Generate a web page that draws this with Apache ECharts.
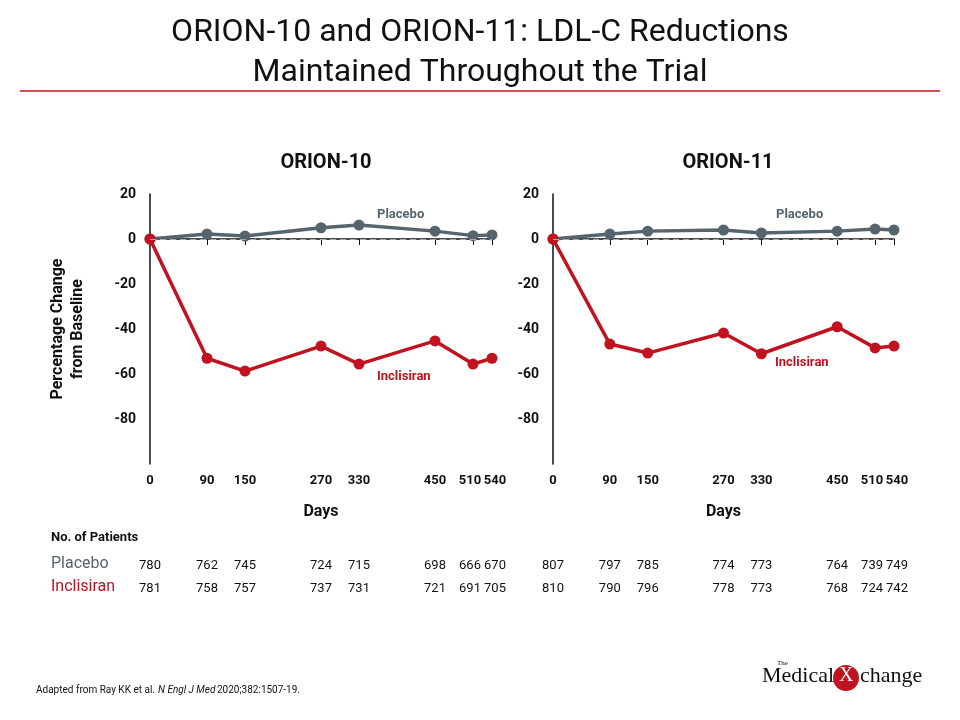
<!DOCTYPE html>
<html><head><meta charset="utf-8">
<script src="https://cdn.jsdelivr.net/npm/echarts@6/dist/echarts.min.js"></script>
<style>html,body{margin:0;background:#fff}#c{width:960px;height:720px}</style>
</head><body><div id="c"></div>
<script>
const days = [0, 90, 150, 270, 330, 450, 510, 540];
const placebo10 = [0, 2.2, 1.3, 5, 6.2, 3.5, 1.5, 1.8];
const inclisiran10 = [0, -53, -58.7, -47.6, -55.6, -45.3, -55.6, -53];
const placebo11 = [0, 2.2, 3.5, 4, 2.7, 3.5, 4.4, 4];
const inclisiran11 = [0, -46.7, -50.7, -41.8, -51, -39, -48.4, -47.6];
const nPlacebo10 = [780, 762, 745, 724, 715, 698, 666, 670];
const nInclisiran10 = [781, 758, 757, 737, 731, 721, 691, 705];
const nPlacebo11 = [807, 797, 785, 774, 773, 764, 739, 749];
const nInclisiran11 = [810, 790, 796, 778, 773, 768, 724, 742];
const yTicks = [20, 0, -20, -40, -60, -80];

const GRAY = '#56646e', RED = '#c0121f';
const FONT = 'Roboto, sans-serif';
const chart = echarts.init(document.getElementById('c'));
const grids = [{ left: 150, width: 342 }, { left: 553, width: 341 }];

function xAxis(i) {
  return {
    gridIndex: i, type: 'value', min: 0, max: 540,
    name: 'Days', nameLocation: 'middle', nameGap: 40,
    nameTextStyle: { fontSize: 16, fontWeight: 'bold', color: '#111', fontFamily: FONT },
    axisLine: { lineStyle: { color: '#111', width: 1.5 } },
    axisTick: { customValues: days, length: 6, lineStyle: { color: '#111' } },
    axisLabel: {
      customValues: days, hideOverlap: false, fontSize: 13, fontWeight: 'bold', color: '#111', fontFamily: FONT, margin: 10,
      formatter: v => v === 510 ? '{l|510}' : v === 540 ? '{r|540}' : String(v),
      rich: {
        l: { fontSize: 13, fontWeight: 'bold', fontFamily: FONT, color: '#111', padding: [0, 6, 0, 0] },
        r: { fontSize: 13, fontWeight: 'bold', fontFamily: FONT, color: '#111', padding: [0, 0, 0, 6] }
      }
    },
    splitLine: { show: false }
  };
}
function yAxis(i) {
  return {
    gridIndex: i, type: 'value', min: -100, max: 20,
    name: i === 0 ? 'Percentage Change\nfrom Baseline' : '', nameLocation: 'middle', nameGap: 62,
    nameTextStyle: { fontSize: 16, fontWeight: 'bold', color: '#111', fontFamily: FONT, lineHeight: 20 },
    axisLine: { show: true, lineStyle: { color: '#111', width: 1.5 } },
    axisTick: { show: false },
    axisLabel: { customValues: yTicks, fontSize: 14, fontWeight: 'bold', color: '#111', fontFamily: FONT, margin: 14 },
    splitLine: { show: false }
  };
}
function line(i, vals, color, zero) {
  const s = {
    type: 'line', xAxisIndex: i, yAxisIndex: i,
    data: days.map((d, k) => [d, vals[k]]),
    symbol: 'circle', symbolSize: 11,
    lineStyle: { color: color, width: 3.5 }, itemStyle: { color: color },
    z: zero ? 3 : 4
  };
  if (zero) s.markLine = { silent: true, symbol: 'none', label: { show: false },
    lineStyle: { color: '#aaa', type: [6, 4], width: 1 }, data: [{ yAxis: 0 }] };
  return s;
}

const texts = [];
function t(x, y, text, style) {
  texts.push({ type: 'text', left: x, top: y, style: Object.assign({ text: text, fontFamily: FONT, fill: '#111', fontSize: 14 }, style) });
}
const nudge = [0, 0, 0, 0, 0, 0, -3, 3];
function tableRow(gi, vals, y) {
  const g = grids[gi];
  vals.forEach((v, k) => {
    texts.push({ type: 'text', x: g.left + days[k] / 540 * g.width + nudge[k], y: y,
      style: { text: String(v), fontFamily: FONT, fill: '#111', fontSize: 13, align: 'center', verticalAlign: 'middle' } });
  });
}
tableRow(0, nPlacebo10, 566); tableRow(0, nInclisiran10, 589);
tableRow(1, nPlacebo11, 566); tableRow(1, nInclisiran11, 589);
t(51, 531, 'No. of Patients', { fontWeight: 'bold', fontSize: 13 });
t(51, 556, 'Placebo', { fill: GRAY, fontSize: 16 });
t(51, 579, 'Inclisiran', { fill: RED, fontSize: 16 });
t(377, 208, 'Placebo', { fill: GRAY, fontWeight: 'bold', fontSize: 13 });
t(377, 370, 'Inclisiran', { fill: RED, fontWeight: 'bold', fontSize: 13 });
t(776, 208, 'Placebo', { fill: GRAY, fontWeight: 'bold', fontSize: 13 });
t(775, 356, 'Inclisiran', { fill: RED, fontWeight: 'bold', fontSize: 13 });
t(36, 685, 'Adapted from Ray KK et al.', { fontSize: 10 });
t(158, 685, 'N Engl J Med', { fontSize: 10, fontStyle: 'italic' });
t(217, 685, '2020;382:1507-19.', { fontSize: 10 });
t(762, 665, 'Medical', { fontSize: 22, fontFamily: '"Liberation Serif", serif' });
texts.push({ type: 'circle', shape: { cx: 846, cy: 678, r: 13 }, style: { fill: RED } });
t(839, 666, 'X', { fontSize: 20, fill: '#fff', fontFamily: '"Liberation Serif", serif' });
t(860, 665, 'change', { fontSize: 22, fontFamily: '"Liberation Serif", serif' });
t(777, 660, 'The', { fontSize: 7, fontFamily: '"Liberation Serif", serif' });
texts.push({ type: 'line', shape: { x1: 20, y1: 91, x2: 940, y2: 91 }, style: { stroke: RED, lineWidth: 1.5 } });

chart.setOption({
  animation: false,
  title: [
    { text: 'ORION-10 and ORION-11: LDL-C Reductions\nMaintained Throughout the Trial', left: 'center', top: 8,
      textStyle: { fontSize: 32, fontWeight: 'normal', color: '#111', fontFamily: FONT, lineHeight: 40 } },
    { text: 'ORION-10', left: 321, top: 148, textAlign: 'center', textStyle: { fontSize: 20, fontWeight: 'bold', color: '#111', fontFamily: FONT } },
    { text: 'ORION-11', left: 723, top: 148, textAlign: 'center', textStyle: { fontSize: 20, fontWeight: 'bold', color: '#111', fontFamily: FONT } }
  ],
  grid: grids.map(g => ({ left: g.left, width: g.width, top: 194, height: 270 })),
  xAxis: [xAxis(0), xAxis(1)],
  yAxis: [yAxis(0), yAxis(1)],
  series: [line(0, placebo10, GRAY, true), line(0, inclisiran10, RED),
           line(1, placebo11, GRAY, true), line(1, inclisiran11, RED)],
  graphic: texts
});
</script></body></html>
